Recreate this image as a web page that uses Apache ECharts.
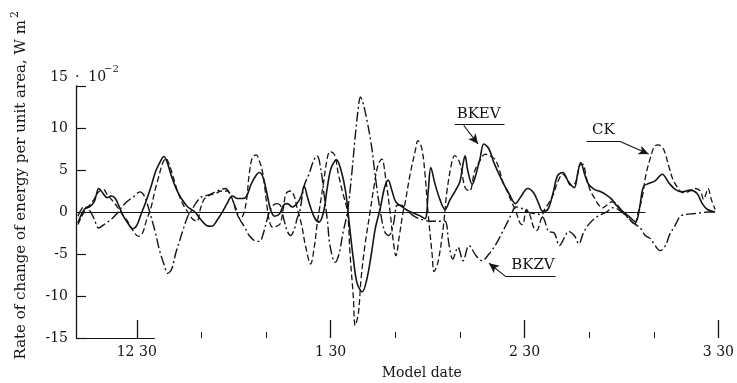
<!DOCTYPE html>
<html>
<head>
<meta charset="utf-8">
<script src="https://cdn.jsdelivr.net/npm/echarts@6/dist/echarts.min.js"></script>
<style>
  html, body { margin: 0; padding: 0; background: #fff; }
  #chart { width: 737px; height: 383px; }
</style>
</head>
<body>
<div id="chart"></div>
<script>
// Model-date axis: days counted from 12/30, 30-day months
const monthTicks = [0, 30, 60, 90];
const monthLabels = ['12 30', '1 30', '2 30', '3 30'];
const tenDayTicks = [10, 20, 40, 50, 70, 80];

// Rate of change of energy per unit area (units of 10^-2 W m^-2)
const bkevDays = [-9.1,-8.5,-7.9,-7.3,-6.6,-6.2,-5.9,-5.2,-4.6,-4.0,-3.4,-2.8,-2.2,-1.4,-0.6,0,0.6,1.4,2.2,2.9,3.5,4.2,4.8,5.4,6.2,6.9,7.9,9.0,9.9,10.8,11.6,12.5,13.4,13.9,14.8,15.6,16.4,17.0,17.7,18.5,19.0,19.6,20.2,20.7,21.3,22.1,22.7,23.3,24.1,24.8,25.5,25.9,26.4,27.0,27.6,28.2,28.9,29.5,30.1,30.9,31.6,32.3,32.9,33.5,34.1,34.9,35.6,36.3,36.9,37.7,38.3,38.9,39.5,40.1,41.3,42.4,43.7,44.6,45.1,45.5,46.1,46.9,47.7,48.5,49.2,50.0,50.5,50.8,51.2,51.9,52.3,53.1,53.7,54.5,55.2,56.0,56.8,57.6,58.6,59.4,60.5,61.4,62.2,62.8,63.6,64.4,65.1,65.9,66.8,67.7,68.2,68.7,69.3,69.9,70.8,71.8,72.7,73.5,74.2,75.0,75.8,76.4,77.2,77.8,78.4,79.2,80.2,81.3,82.3,83.3,84.4,85.6,86.7,87.5,88.3,89.5];
const bkevValues = [-1.3,-0.2,0.5,0.6,1.2,2.2,2.8,2.2,1.7,1.9,1.7,0.8,-0.3,-1.3,-2.0,-1.6,-0.4,1.2,3.0,4.8,5.8,6.6,5.7,4.2,2.6,1.6,0.6,0,-0.9,-1.6,-1.7,-0.9,0.2,0.9,1.9,1.6,1.6,1.9,3.3,4.4,4.7,4.0,2.0,0.3,-0.5,-0.2,0.8,1.0,0.6,1.0,2.0,3.1,1.8,0.3,-0.8,-1.2,0,3.0,5.3,6.2,5.0,2.5,-1.5,-5.5,-8.5,-9.5,-8.0,-5.0,-2.0,0.5,2.8,3.8,2.5,1.2,0.5,0,-0.4,-0.8,2.5,5.3,3.5,1.5,0.3,1.5,2.4,3.6,5.8,6.7,5.0,3.3,4.0,6.3,8.1,7.5,6.0,4.6,3.3,2.2,1.0,1.8,2.8,2.3,1.0,0.1,0.3,2.2,4.3,4.7,3.6,2.9,4.5,5.9,4.5,3.3,2.7,2.4,2.0,1.5,0.8,0.2,-0.3,-0.7,-1.2,0.5,3.0,3.4,3.7,4.5,3.5,2.7,2.4,2.6,2.2,1.0,0.3,0];

const ckDays = [-9.1,-8.5,-7.9,-7.3,-6.6,-6.0,-5.2,-4.5,-3.7,-2.9,-2.3,-1.5,-0.6,0.3,0.9,1.5,2.2,2.8,3.4,4.0,4.5,5.1,5.7,6.3,7.1,7.9,8.6,9.3,9.9,10.5,11.3,12.2,13.1,14.0,14.8,15.4,16.0,16.5,17.0,17.4,17.9,18.5,19.0,19.4,19.8,20.1,20.5,21.0,21.6,22.2,22.7,23.1,23.8,24.4,24.8,25.5,26.1,26.9,27.5,27.9,28.2,28.9,29.5,29.9,30.6,31.2,31.8,32.6,33.0,33.5,33.8,34.3,34.7,35.3,36.1,36.7,37.3,37.9,38.6,39.2,39.7,40.1,40.6,41.2,41.5,42.3,43.1,43.5,44.1,44.6,45.1,45.7,46.0,46.6,47.4,48.0,48.8,49.2,50.0,50.8,51.5,52.3,53.1,53.9,54.6,55.4,56.0,56.6,57.3,58.0,58.6,59.3,59.7,60.3,60.8,61.4,61.9,62.5,63.1,63.7,64.4,65.1,65.9,66.5,67.1,67.9,68.5,69.0,69.6,70.2,70.8,71.5,72.1,72.7,73.5,74.2,75.0,75.8,76.4,77.0,77.6,78.2,78.8,79.5,80.1,80.7,81.5,82.3,83.0,83.8,84.4,85.3,86.4,87.2,87.7,88.0,88.4,88.9,89.5];
const ckValues = [-1.5,-0.5,0.3,0.8,1.5,2.3,2.7,2.0,1.3,0.5,-0.2,-1.0,-2.2,-2.9,-2.5,-1.0,0.5,2.5,4.2,5.8,6.4,5.5,4.0,2.5,1.0,0,-0.8,-1.1,0.5,1.6,2.0,2.2,2.5,2.5,1.5,0,-0.8,-0.3,1.5,4.5,6.5,6.8,6.0,5.0,3.0,1.0,-1.0,-1.8,-1.7,-1.4,0.5,2.2,2.5,1.8,0.5,-1.5,-4.0,-6.2,-4.0,-1.5,0,3.5,6.5,7.2,6.8,4.5,2.5,0,-5,-10,-13.5,-12,-8,-4,0,3,5.5,6.3,3.5,0,-3.5,-5.2,-3.0,0,1.0,4.5,7.3,8.5,7.6,4.5,-0.3,-5.0,-7.1,-6.0,-2.0,2.5,6.1,6.7,5.8,2.9,2.5,4.9,6.1,6.9,6.7,6.3,5.3,3.7,2.5,1.2,0.2,-1.3,-1.5,0.3,-0.3,-1.8,-2.2,-1.0,0.3,1.0,2.0,3.5,4.5,4.0,3.2,3.5,5.5,5.7,4.0,2.5,1.7,0.8,0.5,0.8,1.2,1.0,0.2,-0.5,-1.0,-1.5,0,1.7,4.5,6.5,7.8,8.0,7.5,5.5,3.8,2.8,2.3,2.4,2.8,2.5,1.5,2.0,2.8,1.5,0.3];

const bkzvDays = [-9.1,-8.5,-7.9,-7.3,-6.6,-5.9,-4.9,-4.0,-3.1,-2.3,-1.4,-0.5,0.5,1.1,1.7,2.3,2.9,3.5,4.2,4.8,5.4,6.0,6.6,7.3,7.9,8.5,9.1,10.0,11.0,11.9,12.8,13.7,14.5,15.3,15.9,16.7,17.4,18.2,19.0,19.6,20.2,20.8,21.6,22.2,22.8,23.3,23.8,24.4,24.8,25.2,25.9,26.7,27.3,27.9,28.5,29.0,29.5,29.9,30.7,31.3,31.9,32.6,33.2,33.8,34.3,34.6,35.0,35.6,36.3,36.9,37.7,38.4,39.0,39.7,40.3,40.9,41.8,42.7,43.7,44.6,45.5,46.8,47.7,48.3,48.9,49.7,50.5,51.4,52.5,53.4,54.5,55.6,56.5,57.3,58.0,58.6,59.4,60.5,61.6,62.3,63.0,63.7,64.6,65.4,66.2,66.8,67.7,68.4,69.1,69.9,70.8,71.8,72.7,73.6,74.5,75.5,76.4,77.2,77.9,78.7,79.5,80.2,81.0,81.8,82.5,83.3,84.1,85.0,86.1,87.2,88.4,89.5];
const bkzvValues = [-0.5,0.4,0.6,0.2,-0.8,-1.9,-1.4,-0.9,-0.2,0.6,1.3,1.8,2.4,2.0,0.8,-0.8,-2.5,-4.5,-6.2,-7.3,-6.8,-5.0,-3.5,-1.8,-0.5,0.2,1.0,1.8,2.0,2.3,2.6,2.8,2.0,0.5,-0.8,-1.8,-2.8,-3.4,-3.5,-2.5,-0.8,0.5,1.0,0.8,-1.0,-2.3,-2.8,-2.0,-0.8,0,3.1,4.6,6.0,6.7,5.0,2.0,-1.0,-4.0,-6.0,-5.0,-2.5,0,4,9,12.5,13.7,13.0,11,8,4.3,0,-2.4,-2.8,-1.5,0.8,0.8,0.2,-0.4,-0.8,-1.0,-1.1,-1.1,-1.1,-3.8,-5.6,-4.2,-5.8,-4.0,-5.2,-5.8,-5.0,-3.8,-2.5,-1.3,-0.2,0.6,0.5,0,-0.2,-0.3,-0.8,-2.3,-2.5,-4.0,-3.0,-2.3,-2.8,-3.8,-2.5,-1.5,-0.8,-0.3,0,0.5,0.3,-0.3,-1.0,-1.5,-1.9,-2.8,-3.2,-4.0,-4.6,-4.0,-2.6,-1.6,-0.5,-0.3,-0.2,-0.1,0,0];

const X_MIN = -9.4;
const X_MAX = 90;
const INK = '#141414';
const FONT = '"DejaVu Serif", "Liberation Serif", serif';

const zip = (xs, ys) => xs.map((x, i) => [x, ys[i]]);

const chart = echarts.init(document.getElementById('chart'), null, { renderer: 'canvas' });

// thin reference lines and callouts, given in data coordinates
const refLines = [
  [{ coord: [X_MIN, 0] }, { coord: [78.7, 0] }],
  [{ coord: [X_MIN, -15] }, { coord: [2.8, -15] }],
  [{ coord: [49.2, 10.5] }, { coord: [56.9, 10.5] }],
  [{ coord: [50.6, 10.3] }, { coord: [52.8, 8.1], symbol: 'arrow', symbolSize: [7, 10] }],
  [{ coord: [57.1, -7.7] }, { coord: [64.8, -7.7] }],
  [{ coord: [57.1, -7.7] }, { coord: [54.5, -6.1], symbol: 'arrow', symbolSize: [7, 10] }],
  [{ coord: [69.6, 8.4] }, { coord: [74.8, 8.4] }],
  [{ coord: [74.8, 8.4] }, { coord: [79.2, 6.9], symbol: 'arrow', symbolSize: [7, 10] }]
];

const callouts = [
  { name: 'BKEV', coord: [52.9, 11.7] },
  { name: 'BKZV', coord: [61.3, -6.3] },
  { name: 'CK', coord: [72.2, 9.7] }
];

const option = {
  animation: false,
  backgroundColor: '#fff',
  grid: { left: 76, right: 17, top: 86, bottom: 45 },
  xAxis: [
    {
      type: 'value', min: X_MIN, max: X_MAX, position: 'bottom',
      axisLine: { show: false, onZero: false }, splitLine: { show: false },
      axisTick: { show: true, inside: true, length: 18, customValues: monthTicks,
                  lineStyle: { color: INK, width: 1.3 } },
      axisLabel: { customValues: monthTicks, margin: 7,
                   formatter: v => monthLabels[monthTicks.indexOf(v)] || '',
                   fontFamily: FONT, fontSize: 14, color: INK }
    },
    {
      type: 'value', min: X_MIN, max: X_MAX, position: 'bottom',
      axisLine: { show: false, onZero: false }, splitLine: { show: false },
      axisTick: { show: true, inside: true, length: 6, customValues: tenDayTicks,
                  lineStyle: { color: INK, width: 1 } },
      axisLabel: { show: false }
    }
  ],
  yAxis: {
    type: 'value', min: -15, max: 15, interval: 5, position: 'left',
    axisLine: { show: true, onZero: false, lineStyle: { color: INK, width: 1.3 } },
    axisTick: { show: true, inside: true, length: 10, lineStyle: { color: INK, width: 1.2 } },
    splitLine: { show: false },
    axisLabel: { margin: 8, fontFamily: FONT, fontSize: 14, color: INK,
                 formatter: v => (v === 15 ? '' : String(v)) }
  },
  series: [
    {
      name: 'BKEV', type: 'line', xAxisIndex: 0, data: zip(bkevDays, bkevValues),
      symbol: 'none', smooth: 0.35,
      lineStyle: { color: INK, width: 1.6, type: 'solid' },
      markLine: {
        silent: true, animation: false, symbol: ['none', 'none'],
        label: { show: false },
        lineStyle: { color: INK, width: 1.1, type: 'solid' },
        emphasis: { disabled: true },
        data: refLines
      },
      markPoint: {
        silent: true, animation: false, symbol: 'rect', symbolSize: 1,
        itemStyle: { color: 'rgba(0,0,0,0)' },
        label: { show: true, position: 'inside', formatter: p => p.name,
                 fontFamily: FONT, fontSize: 15, color: INK },
        data: callouts
      }
    },
    {
      name: 'CK', type: 'line', xAxisIndex: 0, data: zip(ckDays, ckValues),
      symbol: 'none', smooth: 0.35,
      lineStyle: { color: INK, width: 1.3, type: [6, 3] }
    },
    {
      name: 'BKZV', type: 'line', xAxisIndex: 0, data: zip(bkzvDays, bkzvValues),
      symbol: 'none', smooth: 0.35,
      lineStyle: { color: INK, width: 1.4, type: [10, 3, 2, 3] }
    }
  ]
};

chart.setOption(option);

// axis titles and the scale factor beside the top tick
const toPx = (d, v) => chart.convertToPixel({ xAxisIndex: 0, yAxisIndex: 0 }, [d, v]);
const topTick = toPx(X_MIN, 15);
const xTitlePos = toPx(44.1, -19.2);
const yTitleX = topTick[0] - 55;

chart.setOption({
  graphic: [
    { type: 'text', x: topTick[0] - 8, y: topTick[1] - 9,
      style: { text: '15', align: 'right', verticalAlign: 'middle', font: '14px ' + FONT, fill: INK } },
    { type: 'text', x: topTick[0] - 1, y: topTick[1] - 9,
      style: { text: '·  10', align: 'left', verticalAlign: 'middle', font: '14px ' + FONT, fill: INK } },
    { type: 'text', x: topTick[0] + 28, y: topTick[1] - 17,
      style: { text: '−2', align: 'left', verticalAlign: 'middle', font: '10px ' + FONT, fill: INK } },
    {
      // rotated title, anchored at its upper end
      type: 'group', x: yTitleX, y: topTick[1] - 66, rotation: Math.PI / 2,
      children: [
        { type: 'text', x: 0, y: 0,
          style: { text: 'Rate of change of energy per unit area, W m', align: 'right',
                   verticalAlign: 'middle', font: '15px ' + FONT, fill: INK } },
        { type: 'text', x: 2, y: -6,
          style: { text: '2', align: 'left', verticalAlign: 'middle', font: '11px ' + FONT, fill: INK } }
      ]
    },
    { type: 'text', x: xTitlePos[0], y: xTitlePos[1],
      style: { text: 'Model date', align: 'center', verticalAlign: 'middle', font: '14px ' + FONT, fill: INK } }
  ]
});
</script>
</body>
</html>
